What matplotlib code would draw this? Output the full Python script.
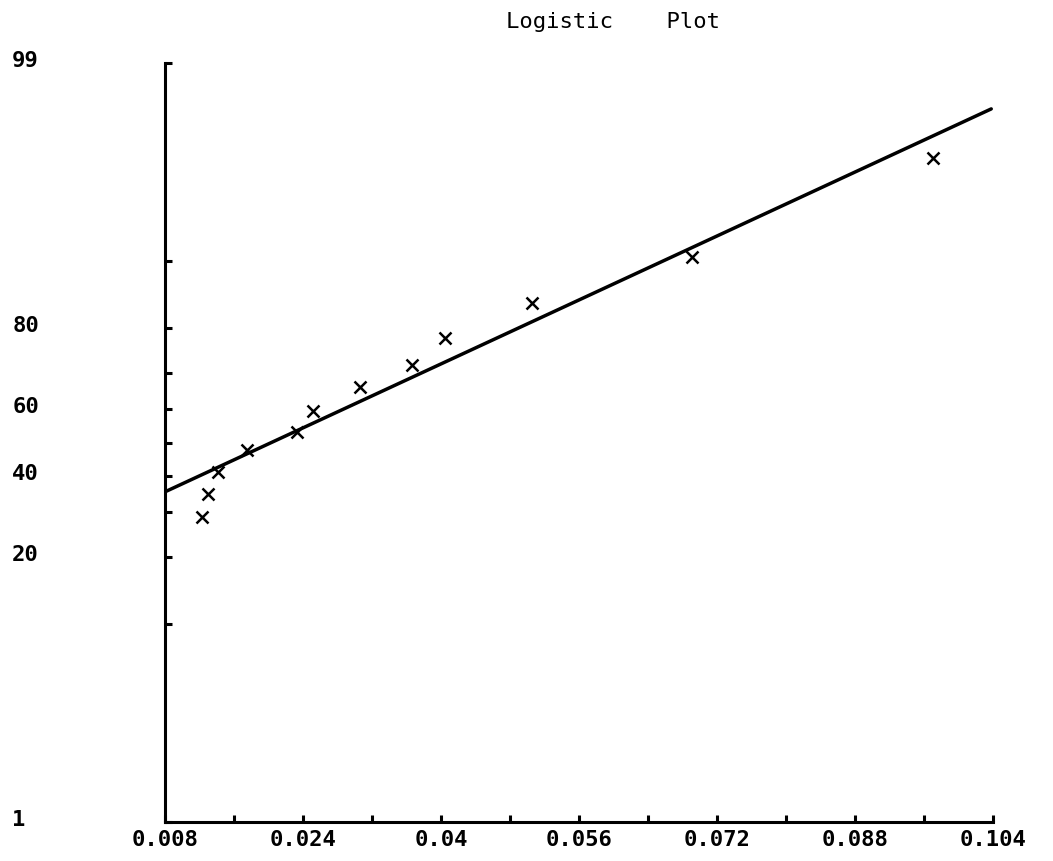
import numpy as np
import matplotlib.pyplot as plt
import matplotlib.transforms as mtransforms

# dose (x) and response in percent (y)
conc = [0.01226, 0.01302, 0.01418, 0.01747, 0.02327, 0.02519,
        0.03061, 0.03660, 0.04046, 0.05059, 0.06914, 0.09701]
pct = [28.8, 34.8, 41.2, 47.7, 53.3, 59.5,
       66.1, 71.9, 78.1, 84.4, 90.4, 96.9]

# fitted logistic line, end points
fit_x = [0.008, 0.1038]
fit_pct = [35.5, 98.27]

y_ticks = [1, 10, 20, 30, 40, 50, 60, 70, 80, 90, 99]
y_labels = ['1', '', '20', '', '40', '', '60', '', '80', '', '99']
x_ticks = [0.008, 0.016, 0.024, 0.032, 0.04, 0.048, 0.056,
           0.064, 0.072, 0.08, 0.088, 0.096, 0.104]
x_labels = ['0.008', '', '0.024', '', '0.04', '', '0.056',
            '', '0.072', '', '0.088', '', '0.104']


def logit(p):
    with np.errstate(divide='ignore', invalid='ignore'):
        p = np.asarray(p, dtype=float)
        return np.log(p / (100.0 - p))


def inv_logit(z):
    return 100.0 / (1.0 + np.exp(-np.asarray(z, dtype=float)))


plt.rcParams['font.family'] = 'DejaVu Sans Mono'

fig = plt.figure(figsize=(10.53, 8.61), dpi=100)
ax = fig.add_axes([0.1567, 0.0453, 0.7863, 0.8815])
ax.set_yscale('function', functions=(logit, inv_logit))
ax.set_ylim(1, 99)
ax.set_xlim(0.008, 0.104)

ax.plot(fit_x, fit_pct, color='black', lw=2.5, solid_capstyle='round')
ax.plot(conc, pct, 'x', color='black', ms=8.5, mew=1.8)

for side in ['top', 'right']:
    ax.spines[side].set_visible(False)
for side in ['left', 'bottom']:
    ax.spines[side].set_linewidth(2.2)

ax.set_yticks(y_ticks)
ax.set_yticklabels(y_labels, ha='left', fontsize=16, fontweight='bold')
ax.minorticks_off()
ax.set_xticks(x_ticks)
ax.set_xticklabels(x_labels, fontsize=16, fontweight='bold')
ax.tick_params(axis='y', direction='in', length=5, width=2.2, pad=110)
ax.tick_params(axis='x', direction='in', length=5, width=2.2, pad=6)

# y labels sit a little above their ticks
shift = mtransforms.ScaledTranslation(0, 4 / 100, fig.dpi_scale_trans)
for lbl in ax.get_yticklabels():
    lbl.set_transform(lbl.get_transform() + shift)

fig.text(613 / 1053, 1 - 22 / 861, 'Logistic    Plot', ha='center', va='center',
         fontsize=16)

fig.savefig('out.png', dpi=100)
